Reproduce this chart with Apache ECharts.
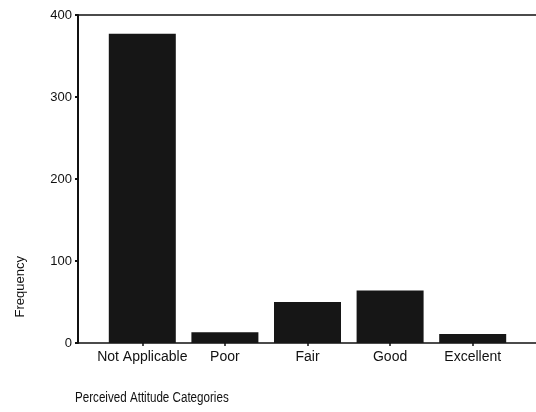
<!DOCTYPE html>
<html>
<head>
<meta charset="utf-8">
<script src="https://cdn.jsdelivr.net/npm/echarts@6/dist/echarts.min.js"></script>
<style>
  html, body { margin: 0; padding: 0; background: #fff; }
  #chart { width: 536px; height: 412px; }
</style>
</head>
<body>
<div id="chart"></div>
<script>
// data
const categories = ['Not Applicable', 'Poor', 'Fair', 'Good', 'Excellent'];
const frequency = [377, 13, 50, 64, 11];
const yTicks = [0, 100, 200, 300, 400];

const chart = echarts.init(document.getElementById('chart'));
const font = 'Liberation Sans, Arial, sans-serif';

const option = {
    animation: false,
    backgroundColor: '#fff',
    grid: [
        // frame: left axis, top and bottom lines
        { left: 78, right: 0, top: 15, bottom: 69 },
        // bars
        { left: 101, right: 22, top: 15, bottom: 69 }
    ],
    xAxis: [
        {
            gridIndex: 0, type: 'category', position: 'top', data: [''],
            axisLine: { show: true, onZero: false, lineStyle: { color: '#111', width: 1.5 } },
            axisTick: { show: false }, axisLabel: { show: false }
        },
        {
            gridIndex: 0, type: 'category', position: 'bottom', data: [''],
            axisLine: { show: true, onZero: false, lineStyle: { color: '#111', width: 1.5 } },
            axisTick: { show: false }, axisLabel: { show: false }
        },
        {
            gridIndex: 1, type: 'category', data: categories,
            axisLine: { show: false },
            axisTick: { show: true, alignWithLabel: true, length: 3, lineStyle: { color: '#111', width: 1.5 } },
            axisLabel: { color: '#111', fontSize: 14, fontFamily: font, margin: 7, interval: 0 }
        }
    ],
    yAxis: [
        {
            gridIndex: 0, type: 'value', min: yTicks[0], max: yTicks[yTicks.length - 1], interval: 100,
            axisLine: { show: true, lineStyle: { color: '#111', width: 2 } },
            axisTick: { show: true, length: 3, lineStyle: { color: '#111', width: 2 } },
            axisLabel: { color: '#111', fontSize: 13, fontFamily: font, margin: 6 },
            splitLine: { show: false }
        },
        {
            gridIndex: 1, type: 'value', min: 0, max: 400, show: false
        }
    ],
    series: [
        {
            type: 'bar',
            xAxisIndex: 2,
            yAxisIndex: 1,
            data: frequency,
            barWidth: 67,
            itemStyle: { color: '#161616' }
        }
    ],
    graphic: [
        {
            type: 'text', left: 14, top: 256, rotation: Math.PI / 2,
            style: { text: 'Frequency', fill: '#111', font: '13px ' + font }
        },
        {
            type: 'text', x: 75, y: 391, scaleX: 0.83,
            style: { text: 'Perceived Attitude Categories', fill: '#111', font: '14px ' + font }
        }
    ]
};
chart.setOption(option);
</script>
</body>
</html>
